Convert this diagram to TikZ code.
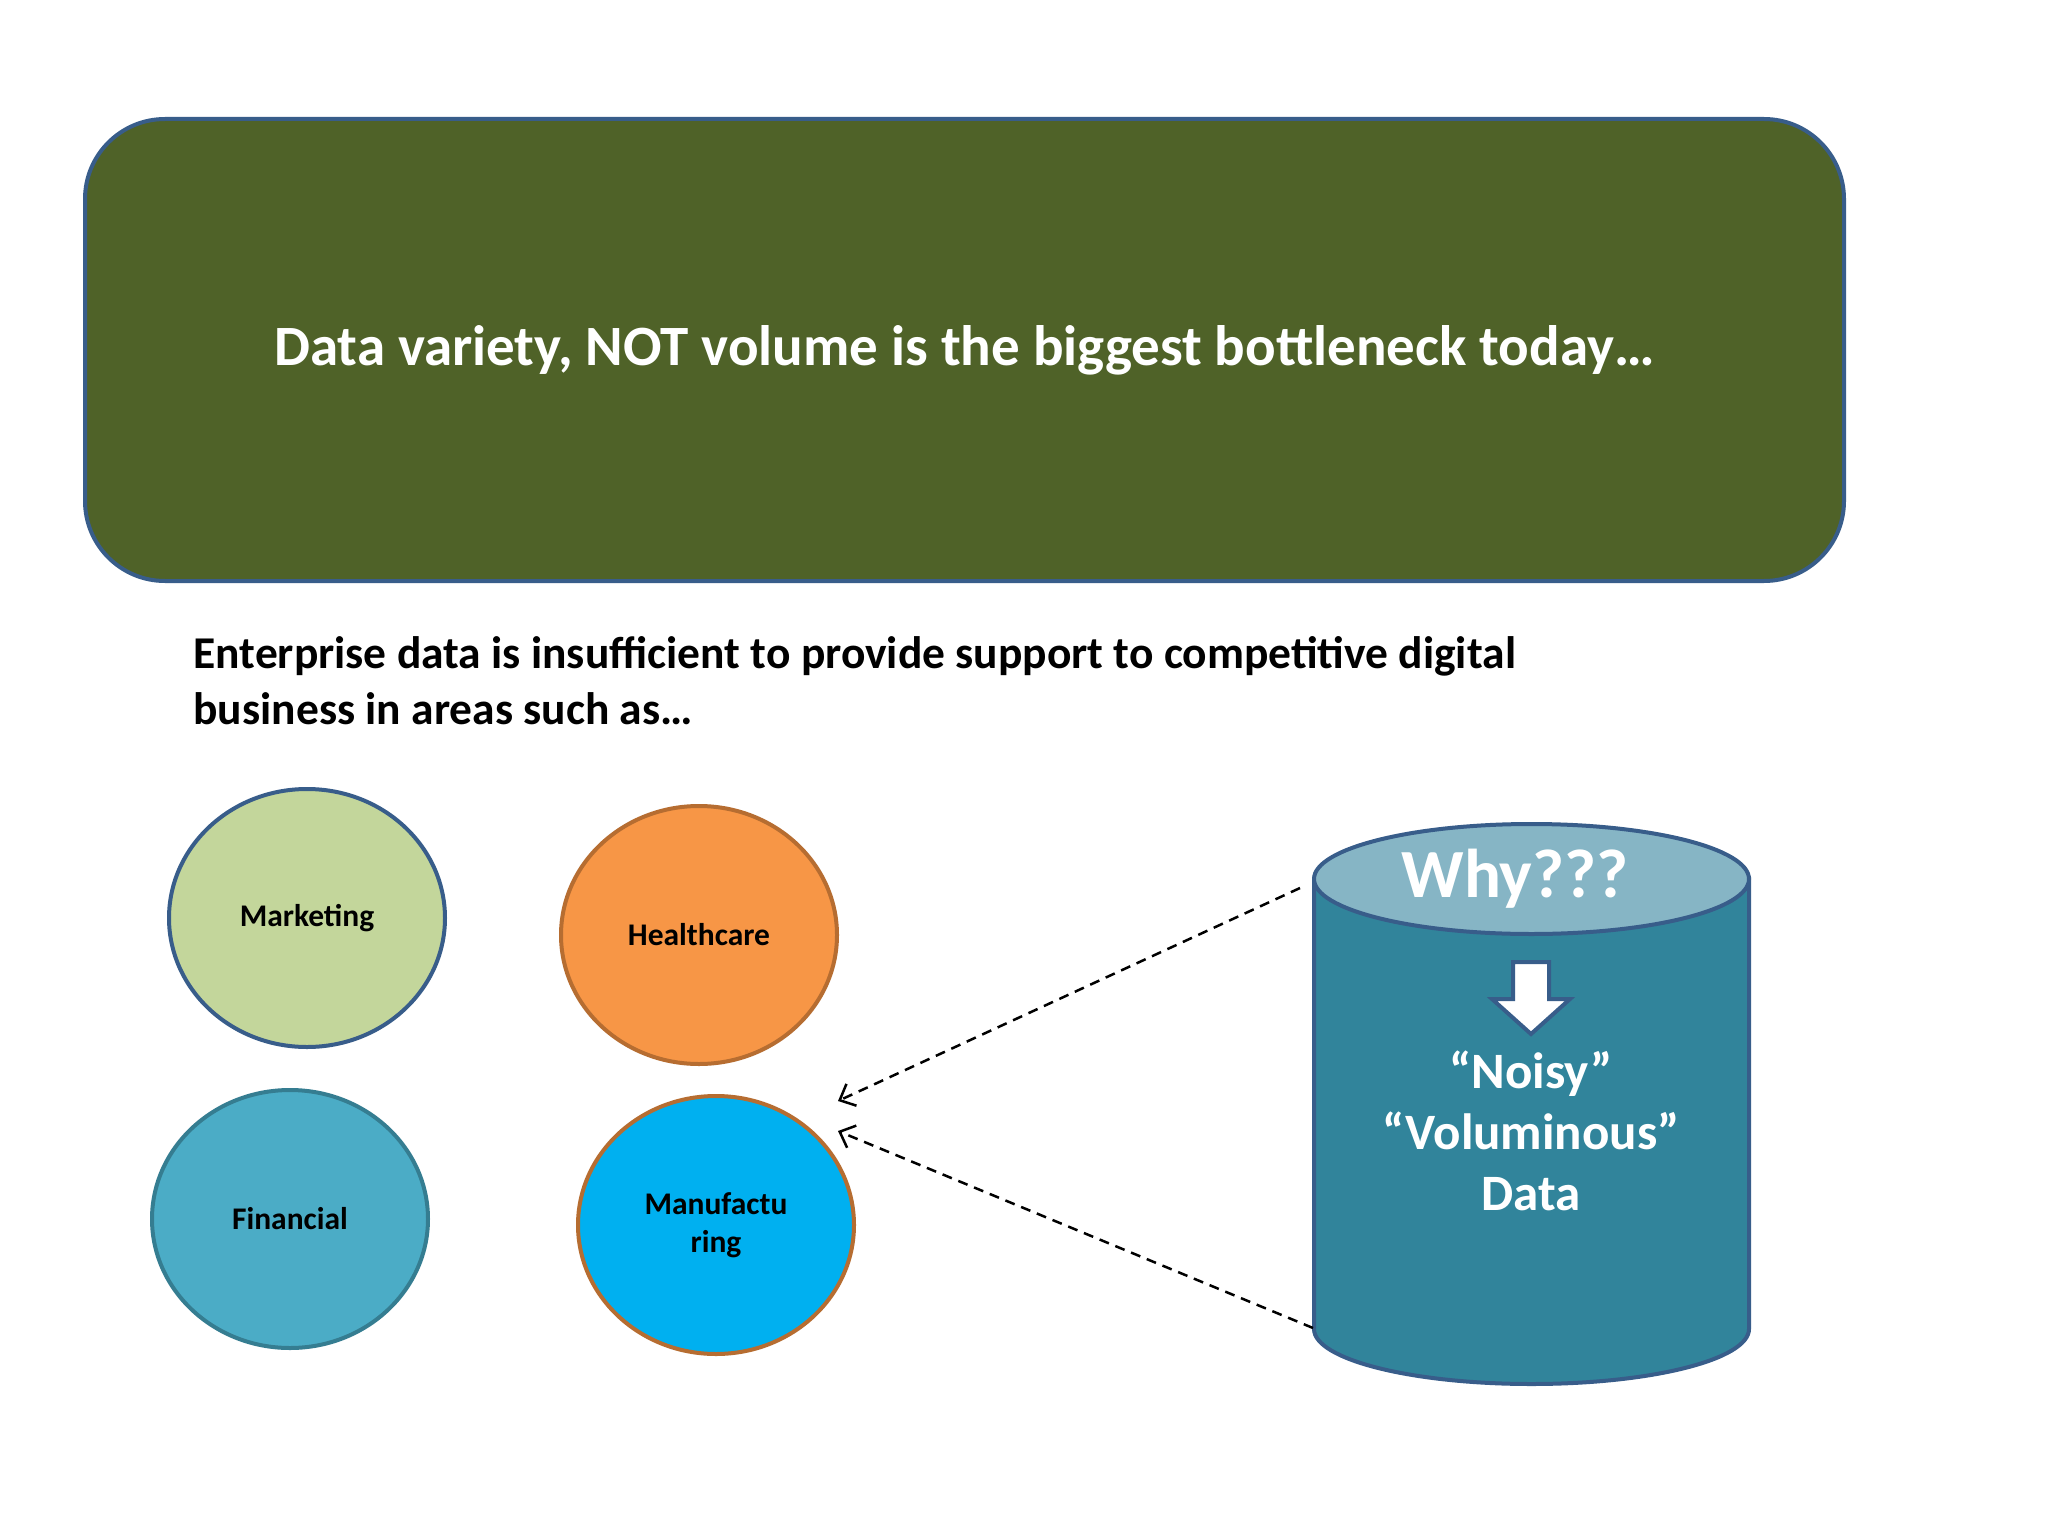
\documentclass[tikz,border=0pt]{standalone}
\usepackage{fontspec}
\setmainfont{Carlito}
\usetikzlibrary{arrows.meta,shapes.geometric}

\definecolor{olivebox}{HTML}{4F6228}
\definecolor{edgeblue}{HTML}{385D8A}
\definecolor{mktgreen}{HTML}{C3D69B}
\definecolor{hcorange}{HTML}{F79646}
\definecolor{edgebrown}{HTML}{B66D31}
\definecolor{finteal}{HTML}{4BACC6}
\definecolor{edgeteal}{HTML}{357D91}
\definecolor{mfgblue}{HTML}{00B0F0}
\definecolor{cylbody}{HTML}{31849B}
\definecolor{cyltop}{HTML}{86B5C5}

\begin{document}
\begin{tikzpicture}[
  x=1pt, y=-1pt,
  >={Straight Barb[length=13pt,width=24pt]},
  area/.style={
    ellipse,
    draw,
    line width=4pt,
    minimum width=276pt,
    minimum height=258pt,
    inner sep=0pt,
    align=center,
    font=\bfseries\fontsize{31.5}{38}\selectfont
  },
  cyltext/.style={text=white, align=center, font=\bfseries\fontsize{51}{61}\selectfont},
  link/.style={->, line width=2.5pt, dash pattern=on 10pt off 7pt}
]
\useasboundingbox[fill=white] (0,0) rectangle (2048,1536);

\node[draw=edgeblue, line width=4pt, fill=olivebox, rounded corners=80pt,
      minimum width=1759pt, minimum height=462pt, text=white,
      font=\bfseries\fontsize{57}{66}\selectfont] (headline) at (964.5,350)
  {Data variety, NOT volume is the biggest bottleneck today…};

\node[anchor=west, align=left, font=\bfseries\fontsize{45.5}{56}\selectfont] (intro) at (190,681)
  {Enterprise data is insufficient to provide support to competitive digital\\business in areas such as…};

% business areas
\node[area, draw=edgeblue, fill=mktgreen]   (marketing)  at (307,918)  {Marketing};
\node[area, draw=edgebrown, fill=hcorange]  (healthcare) at (699,935)  {Healthcare};
\node[area, draw=edgeteal, fill=finteal]    (financial)  at (290,1219) {Financial};
\node[area, draw=edgebrown, fill=mfgblue]   (manufact)   at (716,1225) {Manufactu\\ring};

% data store
\draw[line width=4pt, draw=edgeblue, fill=cylbody]
  (1314,879) -- (1314,1329) arc[start angle=180, end angle=0, x radius=217.5, y radius=55]
  -- (1749,879) -- cycle;
\draw[line width=4pt, draw=edgeblue, fill=cyltop] (1531.5,879) ellipse[x radius=217.5, y radius=55];
\node[text=white, font=\bfseries\fontsize{69}{72}\selectfont] (why) at (1515,879) {Why???};
\draw[line width=4pt, draw=edgeblue, fill=white]
  (1513,962) -- (1549,962) -- (1549,999) -- (1570,999) -- (1531,1034)
  -- (1492,999) -- (1513,999) -- cycle;
\node[cyltext] (data) at (1531,1131) {“Noisy”\\“Voluminous”\\Data};

\coordinate (storetop) at (1300,888);
\coordinate (storebot) at (1313,1328);
\coordinate (tipA) at (838,1101);
\coordinate (tipB) at (838,1131);

\draw[link] (storetop) -- (tipA);
\draw[link] (storebot) -- (tipB);
\end{tikzpicture}
\end{document}
